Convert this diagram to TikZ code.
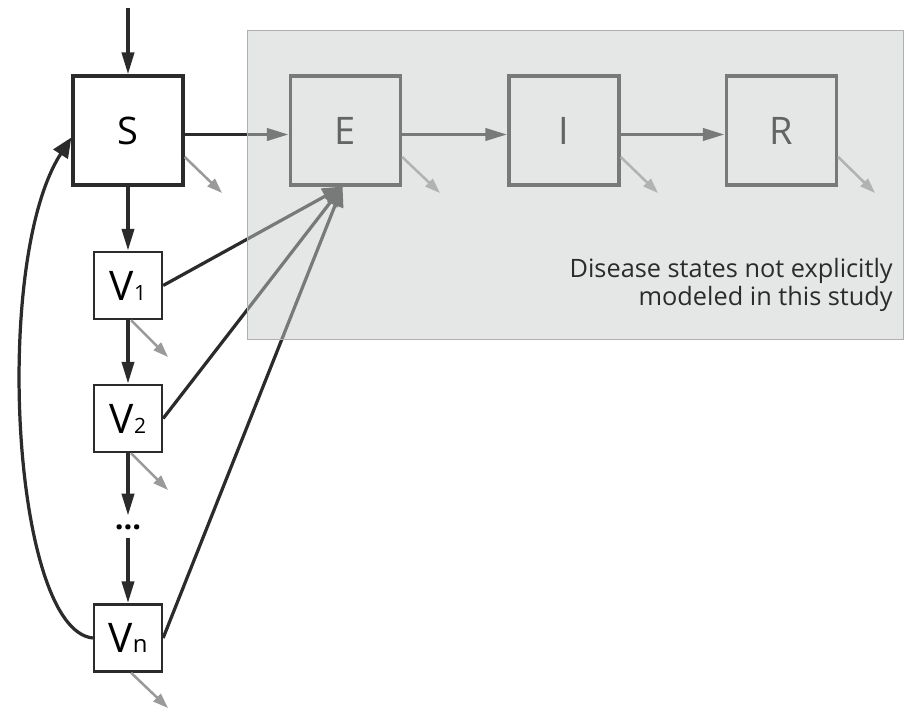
\documentclass[tikz,border=0pt]{standalone}
\usepackage{fontspec}
\setmainfont{Open Sans}
\usetikzlibrary{arrows.meta}
\definecolor{ink}{HTML}{2B2B2B}
\definecolor{fade}{HTML}{9A9A9A}
\definecolor{panelgray}{HTML}{CACCCC}
\definecolor{rim}{HTML}{B0B0B0}

\begin{document}
\begin{tikzpicture}[x=0.025cm,y=-0.025cm,
    >={Triangle[length=0.55cm,width=0.3cm]},
    big/.style={draw=ink,line width=2.3pt,minimum width=2.75cm,minimum height=2.72cm,
      font=\fontsize{27}{30}\selectfont},
    small/.style={draw=ink,line width=1.6pt,fill=white,minimum width=1.7cm,minimum height=1.68cm,
      inner sep=0pt,font=\fontsize{29}{32}\selectfont},
    flow/.style={->,ink,line width=2.7pt},
    link/.style={-{Triangle[length=0.5cm,width=0.42cm]},ink,line width=2.3pt},
    loss/.style={-{Triangle[length=0.38cm,width=0.26cm]},fade,line width=1.8pt}]
	  \useasboundingbox (0,0) rectangle (908,711);
	  % compartments
	  \node[big] (s) at (128,130.5) {S};
	  \node[big] (e) at (345.5,130.5) {E};
	  \node[big] (i) at (564,130.5) {I};
	  \node[big] (r) at (781.5,130.5) {R};
	  \node[small] (v1) at (128,285.5) {V{\fontsize{15}{15}\selectfont 1}};
	  \node[small] (v2) at (128,418.5) {V{\fontsize{15}{15}\selectfont 2}};
	  \node[inner sep=6pt,font=\fontsize{22}{22}\selectfont\bfseries] (vd) at (128,527) {...};
	  \node[small] (vn) at (128,638) {V{\fontsize{17}{17}\selectfont n}};
	  % free ends
	  \coordinate (in) at (128,8);
	  \coordinate (s0) at (222,193);
	  \coordinate (e0) at (440,193);
	  \coordinate (i0) at (658,193);
	  \coordinate (r0) at (875,193);
	  \coordinate (v10) at (168,357);
	  \coordinate (v20) at (168,490);
	  \coordinate (vn0) at (168,708);
	  % flows
	  \draw[flow] (in) -- (s.north);
	  \draw[flow] ([yshift=-0.1cm]s.east) -- ([yshift=-0.1cm]e.west);
	  \draw[flow] ([yshift=-0.1cm]e.east) -- ([yshift=-0.1cm]i.west);
	  \draw[flow] ([yshift=-0.1cm]i.east) -- ([yshift=-0.1cm]r.west);
	  \draw[flow] (s) -- (v1);
	  \draw[flow] (v1) -- (v2);
	  \draw[flow] (v2) -- (vd);
	  \draw[flow] (vd) -- (vn);
	  \draw[link] (v1.east) -- (e.-93);
	  \draw[link] (v2.east) -- (e.-93);
	  \draw[link] (vn.east) -- (e.-93);
	  \draw[link] (vn.west) .. controls (12,630) and (-8,260) .. (s.187);
	  % losses
	  \draw[loss] (s.-25) -- (s0);
	  \draw[loss] (e.-25) -- (e0);
	  \draw[loss] (i.-25) -- (i0);
	  \draw[loss] (r.-25) -- (r0);
	  \draw[loss] (v1.-85) -- (v10);
	  \draw[loss] (v2.-85) -- (v20);
	  \draw[loss] (vn.-85) -- (vn0);
	  % panel over the states not modeled
	  \fill[panelgray,fill opacity=0.49] (247,30) rectangle (903,339);
	  \draw[rim,line width=0.6pt] (247,30) rectangle (903,339);
	  \node[align=right,anchor=north east,inner sep=0pt,ink,
	    font=\fontsize{18}{20}\selectfont] (note) at (893,258)
	    {Disease states not explicitly\\modeled in this study};
	\end{tikzpicture}
\end{document}
